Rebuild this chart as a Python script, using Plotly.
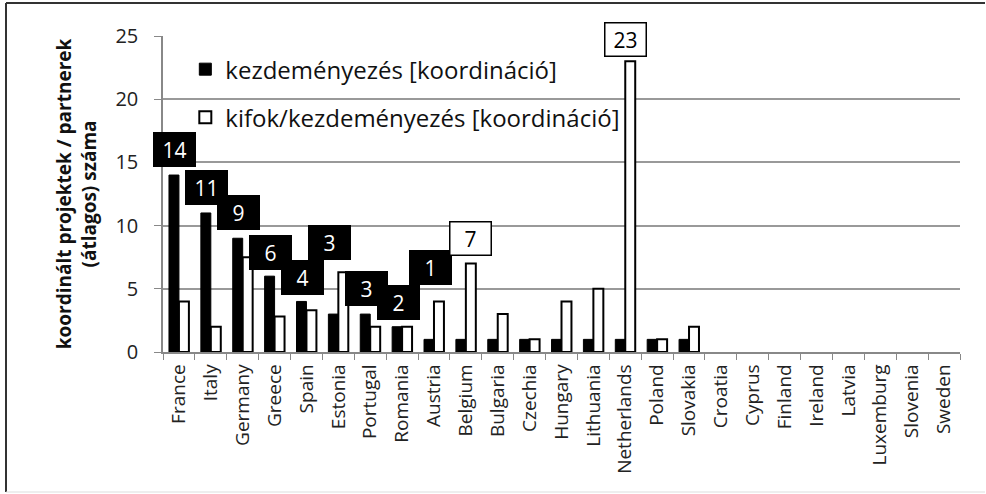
import plotly.graph_objects as go

countries = ["France", "Italy", "Germany", "Greece", "Spain", "Estonia", "Portugal",
             "Romania", "Austria", "Belgium", "Bulgaria", "Czechia", "Hungary",
             "Lithuania", "Netherlands", "Poland", "Slovakia", "Croatia", "Cyprus",
             "Finland", "Ireland", "Latvia", "Luxemburg", "Slovenia", "Sweden"]
initiatives = [14, 11, 9, 6, 4, 3, 3, 2, 1, 1, 1, 1, 1, 1, 1, 1, 1,
               0, 0, 0, 0, 0, 0, 0, 0]
partners_per_initiative = [4, 2, 7.5, 2.8, 3.3, 6.3, 2, 2, 4, 7, 3, 1, 4, 5, 23, 1, 2,
                           0, 0, 0, 0, 0, 0, 0, 0]

# value labels: (country, text, dark box?) and where they sit (y in data units, x shift in px)
labels = [("France", "14", True), ("Italy", "11", True), ("Germany", "9", True),
          ("Greece", "6", True), ("Spain", "4", True), ("Estonia", "3", True),
          ("Portugal", "3", True), ("Romania", "2", True), ("Austria", "1", True),
          ("Belgium", "7", False), ("Netherlands", "23", False)]
label_pos = {"France": (16.0, -4), "Italy": (13.0, -4), "Germany": (11.0, -4),
             "Greece": (7.9, -4), "Spain": (5.9, -4), "Estonia": (8.7, -9),
             "Portugal": (5.0, -4), "Romania": (3.9, -4), "Austria": (6.7, -3),
             "Belgium": (9.0, 5), "Netherlands": (24.7, 0)}

FONT = "Open Sans"
W, H = 986, 494
ML, MR, MT, MB = 163, 26, 36, 142

# zero values leave no mark in the original
def nz(vals):
    return [v if v else None for v in vals]

fig = go.Figure()
fig.add_trace(go.Bar(x=countries, y=nz(initiatives), name="kezdeményezés [koordináció]",
                     marker=dict(color="black", line=dict(color="black", width=1)),
                     legendgroup="a"))
fig.add_trace(go.Bar(x=countries, y=nz(partners_per_initiative),
                     name="kifok/kezdeményezés [koordináció]",
                     marker=dict(color="white", line=dict(color="black", width=2)),
                     legendgroup="b"))

for c, txt, dark in labels:
    ly, xs = label_pos[c]
    fig.add_annotation(x=c, y=ly, text=txt, showarrow=False, xshift=xs,
                       font=dict(family=FONT, size=21, color="white" if dark else "black"),
                       bgcolor="black" if dark else "white",
                       bordercolor="black", borderwidth=1.5,
                       width=38, height=30)

# outer frame
pw, ph = W - ML - MR, H - MT - MB
fx0, fx1 = (6 - ML) / pw, (W - 1 - ML) / pw
fy0, fy1 = 1 - (H - 2 - MT) / ph, 1 - (3 - MT) / ph
fig.add_shape(type="line", xref="paper", yref="paper", x0=fx0, x1=fx1, y0=fy1, y1=fy1,
              line=dict(color="#333", width=2))
fig.add_shape(type="line", xref="paper", yref="paper", x0=fx0, x1=fx0, y0=fy0, y1=fy1,
              line=dict(color="#333", width=2))
fig.add_shape(type="line", xref="paper", yref="paper", x0=fx0, x1=fx1, y0=fy0, y1=fy0,
              line=dict(color="#ddd", width=1))

fig.update_layout(
    width=W, height=H,
    margin=dict(l=ML, r=MR, t=MT, b=MB),
    paper_bgcolor="white", plot_bgcolor="white",
    barmode="group", bargap=0.375, bargroupgap=0,
    font=dict(family=FONT, color="#222"),
    legend=dict(x=0.028, y=0.965, xanchor="left", yanchor="top",
                font=dict(family=FONT, size=24, color="#111"),
                traceorder="grouped", tracegroupgap=14,
                bgcolor="rgba(255,255,255,0)"),
    xaxis=dict(range=[-0.5, len(countries) - 0.5], autorange=False,
               tickangle=-90, tickfont=dict(family=FONT, size=19, color="#222"),
               showline=True, linecolor="#888", linewidth=1.5,
               ticks="outside", tickson="boundaries", ticklen=6, tickcolor="#888",
               ticklabelstandoff=3, showgrid=False, automargin=False),
    yaxis=dict(range=[0, 25], dtick=5, tickfont=dict(family=FONT, size=20, color="#222"),
               showgrid=True, gridcolor="#999", gridwidth=1.5,
               showline=True, linecolor="#888", linewidth=1.5,
               ticks="outside", ticklen=7, tickcolor="#888", automargin=False,
               ticklabelstandoff=12,
               title=dict(text="<b>koordinált projektek / partnerek<br>(átlagos) száma</b>",
                          font=dict(family=FONT, size=19, color="#111"), standoff=14)),
)

fig.write_html("out.html", post_script="document.body.style.margin='0';",
               config={"displayModeBar": False})
